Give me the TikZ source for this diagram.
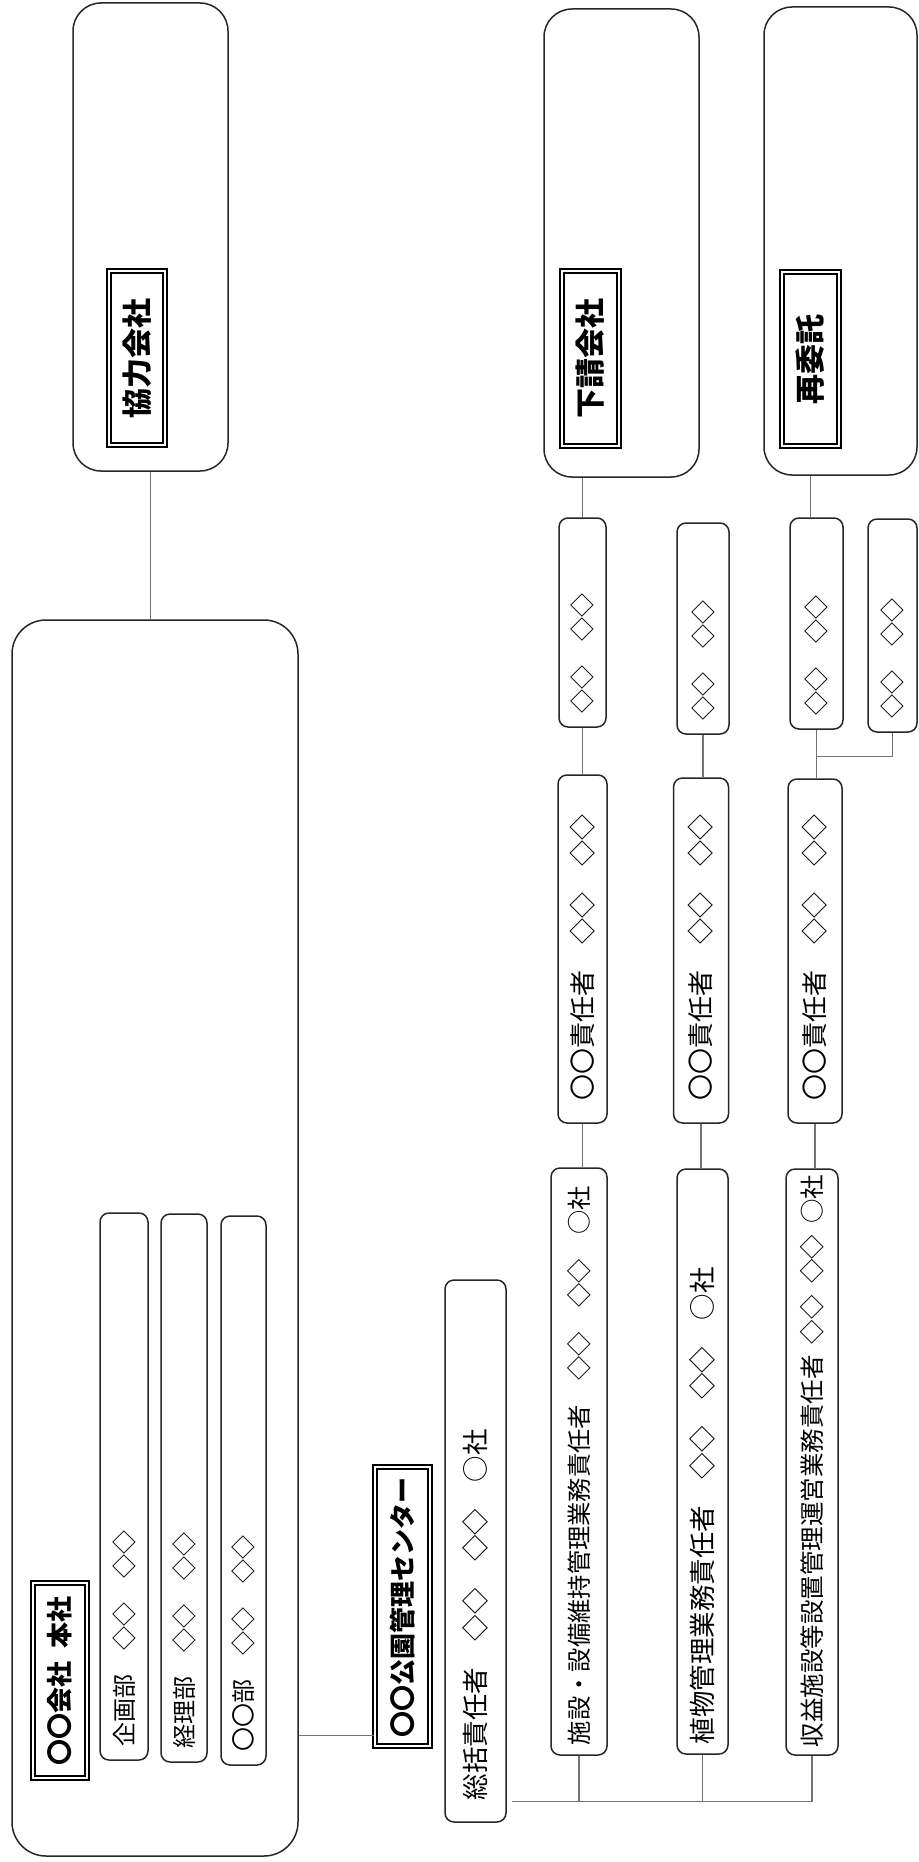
\documentclass[tikz,border=0pt]{standalone}
\usepackage{fontspec}
\setmainfont{Noto Sans CJK JP}
\usetikzlibrary{calc}
\newcommand{\bodysize}{\fontsize{24}{28}\selectfont}
\newcommand{\headsize}{\fontsize{26}{30}\selectfont\bfseries}
\newcommand{\firmsize}{\fontsize{30}{34}\selectfont\bfseries}

\begin{document}
\begin{tikzpicture}[x=1pt,y=-1pt,
    bigbox/.style={draw=black!85,line width=1.5pt,rounded corners=28pt,inner sep=0pt},
    rowbox/.style={draw=black!85,line width=1.5pt,rounded corners=9pt,rotate=90,align=left,inner ysep=0pt,font=\bodysize},
    headbox/.style={draw=black,double=white,line width=2.3pt,double distance=1.4pt,rotate=90,align=left,inner ysep=0pt,font=\headsize},
    firmbox/.style={headbox,align=center,font=\firmsize},
    link/.style={draw=black!55,line width=1.1pt}
  ]
  \useasboundingbox (0,0) rectangle (918,1862);

  % outer frames
  \node[bigbox,minimum width=155pt,minimum height=468pt] (kyoryoku) at (150.5,237) {};
  \node[bigbox,minimum width=155pt,minimum height=468pt] (shitauke) at (621.5,243) {};
  \node[bigbox,minimum width=153pt,minimum height=468pt] (saiitaku) at (840.5,241) {};
  \node[bigbox,minimum width=286pt,minimum height=1236pt,rounded corners=34pt] (honsha) at (155,1238) {};

  % titles
  \node[firmbox,text width=150pt,inner xsep=12pt,minimum height=56pt] (kyolbl) at (137,358) {協力会社};
  \node[firmbox,text width=151pt,inner xsep=12pt,minimum height=57pt] (shitlbl) at (590.5,358.5) {下請会社};
  \node[firmbox,text width=150pt,inner xsep=12pt,minimum height=57pt] (sailbl) at (810.5,359) {再委託};
  \node[headbox,text width=169pt,inner xsep=13pt,minimum height=54pt] (honlbl) at (60,1680.5) {〇〇会社\kern.5em 本社};
  \node[headbox,text width=262pt,inner xsep=8.5pt,minimum height=55pt] (ctrlbl) at (402.5,1606.5) {〇〇公園管理センター};

  % head office departments
  \node[rowbox,text width=519pt,inner xsep=14pt,minimum height=48pt] (kikaku) at (124,1486.5) {企画部　◇◇　◇◇};
  \node[rowbox,text width=520pt,inner xsep=14pt,minimum height=46pt] (keiri) at (184,1488) {経理部　◇◇　◇◇};
  \node[rowbox,text width=521pt,inner xsep=14pt,minimum height=45pt] (bubox) at (243.5,1490.5) {〇〇部　◇◇　◇◇};

  % park centre
  \node[rowbox,text width=498pt,inner xsep=22pt,minimum height=61pt,font=\fontsize{26.5}{30}\selectfont] (soukatsu) at (475.5,1551) {総括責任者　◇◇　◇◇　○社};
  \node[rowbox,text width=567pt,inner xsep=10pt,minimum height=56pt,font=\fontsize{24.3}{28}\selectfont] (shisetsu) at (579,1461.5) {施設・設備維持管理業務責任者　◇◇　◇◇　○社};
  \node[rowbox,text width=565pt,inner xsep=10pt,minimum height=51pt,font=\fontsize{26.5}{30}\selectfont] (shokubutsu) at (702.5,1461.5) {植物管理業務責任者　◇◇　◇◇　○社};
  \node[rowbox,text width=570pt,inner xsep=8pt,minimum height=52pt,font=\fontsize{24.5}{28}\selectfont] (shueki) at (812,1462) {収益施設等設置管理運営業務責任者\kern.45em◇◇\kern.45em◇◇\kern.45em○社};

  \node[rowbox,text width=302pt,inner xsep=23pt,minimum height=49pt,font=\fontsize{26}{30}\selectfont] (mgrA) at (582.5,949) {〇〇責任者　◇◇　◇◇};
  \node[rowbox,text width=299pt,inner xsep=23pt,minimum height=55pt,font=\fontsize{26}{30}\selectfont] (mgrB) at (701,950.5) {〇〇責任者　◇◇　◇◇};
  \node[rowbox,text width=298pt,inner xsep=23pt,minimum height=54pt,font=\fontsize{26}{30}\selectfont] (mgrC) at (815,951) {〇〇責任者　◇◇　◇◇};

  \node[rowbox,text width=181pt,inner xsep=14pt,minimum height=47pt] (subA) at (582.5,622.5) {◇◇　◇◇};
  \node[rowbox,text width=183pt,inner xsep=14pt,minimum height=52pt] (subB) at (703,628.5) {◇◇　◇◇};
  \node[rowbox,text width=183pt,inner xsep=14pt,minimum height=53pt] (subC) at (816.5,623.5) {◇◇　◇◇};
  \node[rowbox,text width=185pt,inner xsep=14pt,minimum height=49pt] (subD) at (892.5,625.5) {◇◇　◇◇};

  % links
  \draw[link] (kyoryoku.south) -- (kyoryoku.south |- honsha.north);
  \coordinate (hqlink) at ([yshift=12pt]ctrlbl.north west);
  \draw[link] (honsha.east |- hqlink) -- (hqlink);

  \coordinate (busstart) at ([xshift=5pt,yshift=21pt]soukatsu.south west);
  \draw[link] (busstart) -- (busstart -| shueki.west);
  \draw[link] (shisetsu.west) -- (shisetsu.west |- busstart);
  \draw[link] (shokubutsu.west) -- (shokubutsu.west |- busstart);
  \draw[link] (shueki.west) -- (shueki.west |- busstart);

  \draw[link] (subA.east) -- (subA.east |- shitauke.south);
  \draw[link] (subA.west) -- (subA.west |- mgrA.east);
  \draw[link] (mgrA.west) -- (mgrA.west |- shisetsu.east);
  \draw[link] (subB.west) -- (subB.west |- mgrB.east);
  \draw[link] (mgrB.west) -- (mgrB.west |- shokubutsu.east);

  \draw[link] (sailbl.center |- saiitaku.south) -- (sailbl.center |- subC.east);
  \draw[link] (subC.west) -- (subC.west |- mgrC.east);
  \coordinate (split) at ($(subC.west)!0.55!(subC.west |- mgrC.east)$);
  \draw[link] (subD.west) |- (split);
  \draw[link] (mgrC.west) -- (mgrC.west |- shueki.east);
\end{tikzpicture}
\end{document}
